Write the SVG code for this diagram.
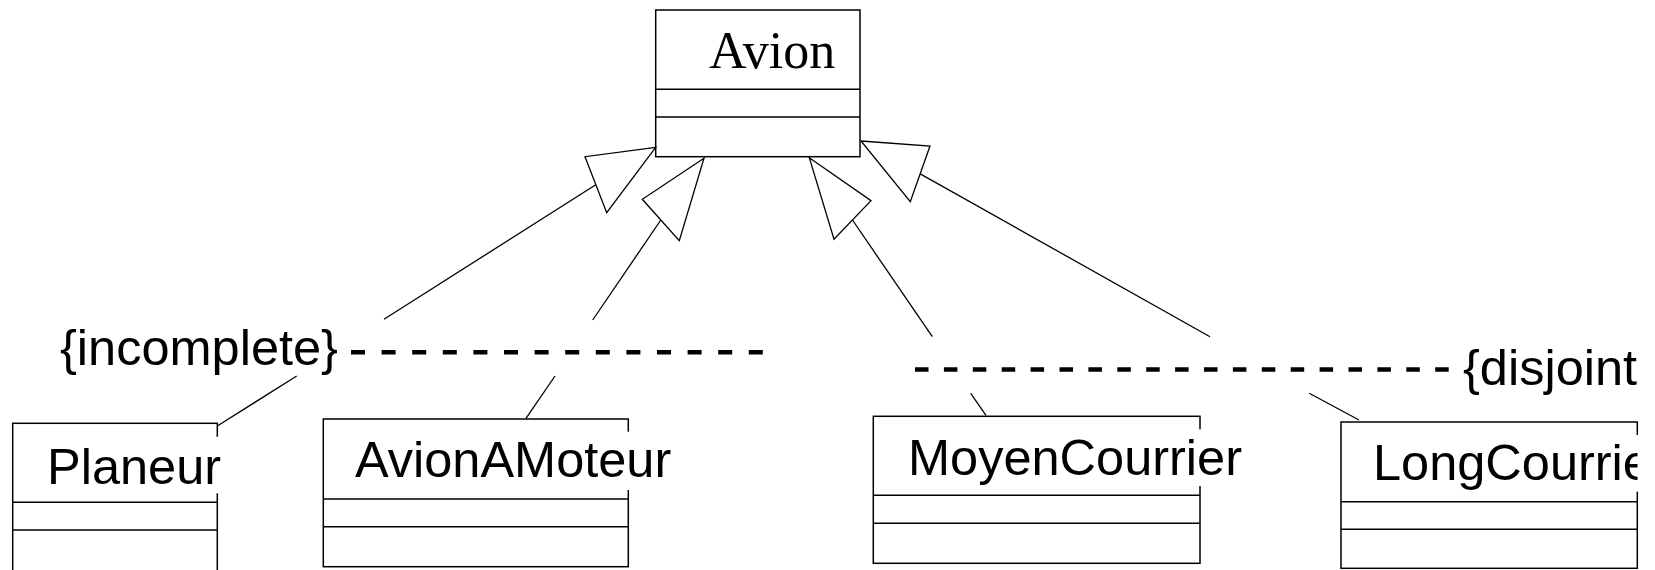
<svg xmlns="http://www.w3.org/2000/svg" width="1655" height="570" viewBox="0 0 1655 570">
<style>
.box{fill:#fff;stroke:#000;stroke-width:1.5}
.div{stroke:#000;stroke-width:1.5}
.bg{fill:#fff;stroke:none}
.lbl{font-family:"Liberation Sans",Arial,sans-serif;font-size:50.5px;fill:#000}
.ser{font-family:"Liberation Serif","Times New Roman",serif;font-size:52px;fill:#000}
.ln{stroke:#000;stroke-width:1.3;fill:none}
.tri{fill:#fff;stroke:#000;stroke-width:1.3;stroke-linejoin:miter}
.dash{stroke:#000;stroke-width:4.5;fill:none}
</style>
<defs>
<clipPath id="clipLong"><rect x="1300" y="420" width="337.5" height="80"/></clipPath>
</defs>
<rect width="1655" height="570" fill="#fff"/>

<g id="Avion">
<rect class="box" x="655.7" y="10" width="204.3" height="146.7"/>
<line class="div" x1="655.7" y1="89.3" x2="860" y2="89.3"/>
<line class="div" x1="655.7" y1="117" x2="860" y2="117"/>
<text class="ser" x="709" y="68">Avion</text>
</g>

<g id="Planeur">
<rect class="box" x="12.7" y="423.3" width="204.6" height="160"/>
<line class="div" x1="12.7" y1="502.3" x2="217.3" y2="502.3"/>
<line class="div" x1="12.7" y1="530" x2="217.3" y2="530"/>
<rect class="bg" x="30" y="436.7" width="195" height="56.6"/>
<text class="lbl" x="47" y="484">Planeur</text>
</g>

<g id="AvionAMoteur">
<rect class="box" x="323.3" y="419" width="305" height="147.7"/>
<line class="div" x1="323.3" y1="499" x2="628.3" y2="499"/>
<line class="div" x1="323.3" y1="526.7" x2="628.3" y2="526.7"/>
<rect class="bg" x="340" y="431.7" width="340" height="58.3"/>
<text class="lbl" x="355" y="477">AvionAMoteur</text>
</g>

<g id="MoyenCourrier">
<rect class="box" x="873.3" y="416.3" width="326.7" height="147"/>
<line class="div" x1="873.3" y1="495.3" x2="1200" y2="495.3"/>
<line class="div" x1="873.3" y1="523.3" x2="1200" y2="523.3"/>
<rect class="bg" x="890" y="429.3" width="355" height="56.7"/>
<text class="lbl" x="908" y="475">MoyenCourrier</text>
</g>

<g id="LongCourrier">
<rect class="box" x="1341" y="422" width="296.3" height="146.3"/>
<line class="div" x1="1341" y1="501.7" x2="1637.3" y2="501.7"/>
<line class="div" x1="1341" y1="529.3" x2="1637.3" y2="529.3"/>
<rect class="bg" x="1360" y="435" width="279" height="56.7"/>
<text class="lbl" x="1373" y="480" clip-path="url(#clipLong)">LongCourrier</text>
</g>

<g id="constraints">
<text class="lbl" x="60" y="365">{incomplete}</text>
<text class="lbl" x="1463" y="385">{disjoint</text>
</g>

<g id="connectors">
<line class="ln" x1="384" y1="319.3" x2="595.8" y2="184.7"/>
<polygon class="tri" points="655.7,147.3 585,156.7 606.7,212.7"/>
<line class="ln" x1="592.7" y1="320" x2="660.8" y2="220"/>
<polygon class="tri" points="704,158.3 642.3,199.3 679.3,240.7"/>
<line class="ln" x1="932.3" y1="336.7" x2="852.5" y2="220"/>
<polygon class="tri" points="809.3,157.7 871,200.7 834,239.3"/>
<line class="ln" x1="1210" y1="336.7" x2="920.2" y2="173.9"/>
<polygon class="tri" points="861,141 930,146 910.3,201.7"/>
<line class="dash" x1="351" y1="352.3" x2="762.8" y2="352.3" stroke-dasharray="14 16.6"/>
<line class="dash" x1="915" y1="369.5" x2="1448.7" y2="369.5" stroke-dasharray="13.5 15.4"/>
<line class="ln" x1="296.7" y1="376" x2="217.3" y2="426"/>
<line class="ln" x1="555" y1="376" x2="526" y2="418.3"/>
<line class="ln" x1="970.7" y1="393.3" x2="986" y2="415.3"/>
<line class="ln" x1="1309.3" y1="393.3" x2="1359" y2="420"/>
</g>
</svg>
